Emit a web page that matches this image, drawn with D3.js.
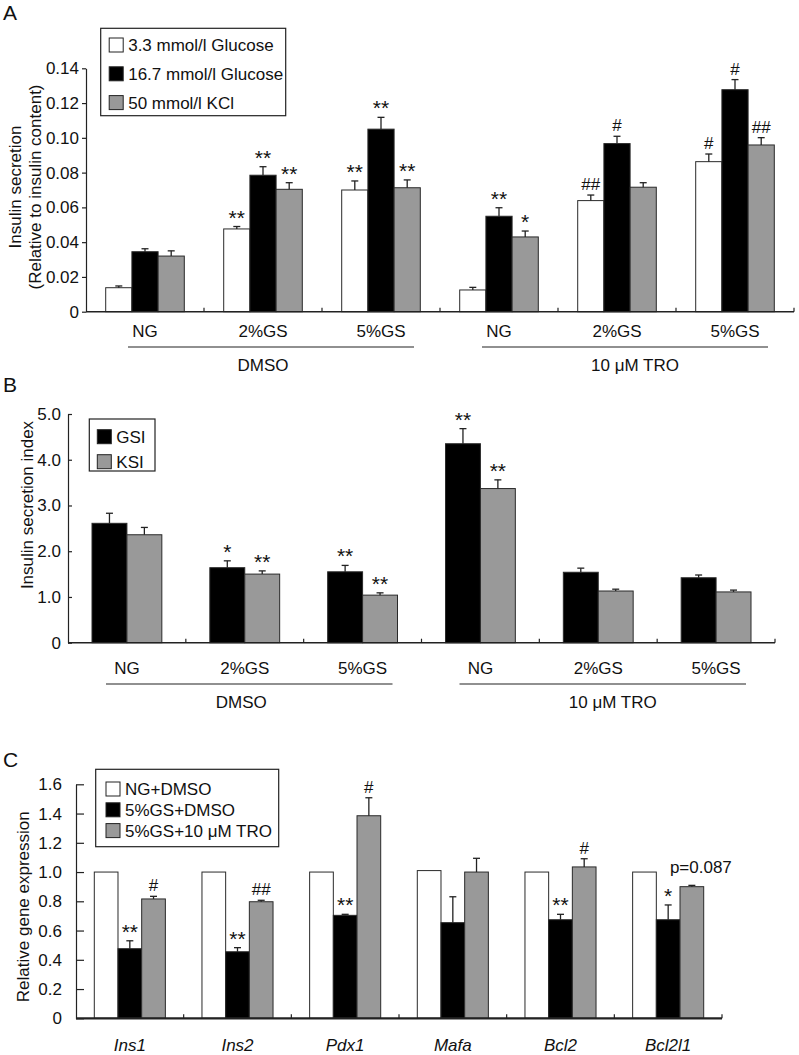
<!DOCTYPE html>
<html>
<head>
<meta charset="utf-8">
<script src="https://cdn.jsdelivr.net/npm/d3@7"></script>
<style>
  body { margin: 0; background: #fff; }
  text { font-family: "Liberation Sans", Arial, sans-serif; fill: #111; }
</style>
</head>
<body>
<svg id="chart" width="799" height="1055"></svg>
<script>
// ---- panel A data
var groupsA = ['NG', '2%GS', '5%GS', 'NG', '2%GS', '5%GS'];
var seriesA = ['3.3 mmol/l Glucose', '16.7 mmol/l Glucose', '50 mmol/l KCl'];
var glc33 = [0.0138, 0.0476, 0.0700, 0.0125, 0.0639, 0.0863];
var glc33Err = [0.0010, 0.0014, 0.0052, 0.0015, 0.0032, 0.0044];
var glc167 = [0.0345, 0.0785, 0.1050, 0.0549, 0.0967, 0.1277];
var glc167Err = [0.0017, 0.0049, 0.0068, 0.0049, 0.0042, 0.0058];
var kcl = [0.0320, 0.0704, 0.0713, 0.0430, 0.0716, 0.0959];
var kclErr = [0.0030, 0.0038, 0.0045, 0.0034, 0.0026, 0.0042];
var glc33Sig = ['', '**', '**', '', '##', '#'];
var glc167Sig = ['', '**', '**', '**', '#', '#'];
var kclSig = ['', '**', '**', '*', '', '##'];
var ticksA = [0, 0.02, 0.04, 0.06, 0.08, 0.10, 0.12, 0.14];
var tickLabelsA = ['0', '0.02', '0.04', '0.06', '0.08', '0.10', '0.12', '0.14'];

// ---- panel B data
var seriesB = ['GSI', 'KSI'];
var gsi = [2.61, 1.64, 1.55, 4.35, 1.54, 1.42];
var gsiErr = [0.22, 0.15, 0.14, 0.33, 0.09, 0.06];
var ksi = [2.36, 1.50, 1.04, 3.37, 1.13, 1.11];
var ksiErr = [0.16, 0.07, 0.05, 0.19, 0.04, 0.04];
var gsiSig = ['', '*', '**', '**', '', ''];
var ksiSig = ['', '**', '**', '**', '', ''];
var ticksB = [0, 1, 2, 3, 4, 5];
var tickLabelsB = ['0', '1.0', '2.0', '3.0', '4.0', '5.0'];

// treatment brackets (A and B)
var treatments = ['DMSO', '10 \u03bcM TRO'];
var treatmentGroups = [[0, 2], [3, 5]];

// ---- panel C data
var genes = ['Ins1', 'Ins2', 'Pdx1', 'Mafa', 'Bcl2', 'Bcl2l1'];
var seriesC = ['NG+DMSO', '5%GS+DMSO', '5%GS+10 \u03bcM TRO'];
var ngDmso = [1.00, 1.00, 1.00, 1.01, 1.00, 1.00];
var ngDmsoErr = [0, 0, 0, 0, 0, 0];
var gsDmso = [0.476, 0.455, 0.704, 0.654, 0.674, 0.674];
var gsDmsoErr = [0.054, 0.028, 0.007, 0.177, 0.037, 0.101];
var gsTro = [0.816, 0.797, 1.385, 1.000, 1.035, 0.900];
var gsTroErr = [0.018, 0.010, 0.123, 0.094, 0.056, 0.009];
var ngDmsoSig = ['', '', '', '', '', ''];
var gsDmsoSig = ['**', '**', '**', '', '**', '*'];
var gsTroSig = ['#', '##', '#', '', '#', 'p=0.087'];
var ticksC = [0, 0.2, 0.4, 0.6, 0.8, 1.0, 1.2, 1.4, 1.6];
var tickLabelsC = ['0', '0.2', '0.4', '0.6', '0.8', '1.0', '1.2', '1.4', '1.6'];

var svg = d3.select('#chart');
var FS = 17;

function drawPanel(p) {
  var g = svg.append('g');
  var x0 = d3.scaleBand().domain(d3.range(p.groups.length)).range([p.left, p.right]);
  var x1 = d3.scaleBand().domain(d3.range(p.series.length)).range([p.pad, x0.bandwidth() - p.pad]);
  var y = d3.scaleLinear().domain([0, p.yMax]).range([p.bottom, p.top]);

  // panel letter
  g.append('text').attr('x', 3).attr('y', p.letterY).attr('font-size', 21).text(p.letter);

  // bars
  p.values.forEach(function(vals, s) {
    var cols = g.append('g');
    cols.selectAll('rect').data(vals).enter().append('rect')
      .attr('x', function(d, i) { return x0(i) + x1(s); })
      .attr('y', function(d) { return y(d); })
      .attr('width', x1.bandwidth())
      .attr('height', function(d) { return y(0) - y(d); })
      .attr('fill', p.fills[s])
      .attr('stroke', '#2a2a2a')
      .attr('stroke-width', 1);

    vals.forEach(function(d, i) {
      var e = p.errs[s][i];
      var cx = x0(i) + x1(s) + x1.bandwidth() / 2;
      if (e > 0) {
        g.append('line').attr('x1', cx).attr('x2', cx).attr('y1', y(d)).attr('y2', y(d + e))
          .attr('stroke', '#222').attr('stroke-width', 1.3);
        g.append('line').attr('x1', cx - 3.5).attr('x2', cx + 3.5).attr('y1', y(d + e)).attr('y2', y(d + e))
          .attr('stroke', '#222').attr('stroke-width', 1.3);
      }
      var t = p.sigs[s][i];
      if (t) {
        var note = t.indexOf('p=') === 0;
        var star = t.charAt(0) === '*';
        g.append('text')
          .attr('x', cx + (note ? 9 : 0))
          .attr('y', y(d + e) - (note ? 12 : star ? 2 : 5))
          .attr('text-anchor', 'middle')
          .attr('font-size', star ? 21 : FS)
          .text(t);
      }
    });
  });

  // y axis
  var ya = d3.axisLeft(y).tickValues(p.yTicks)
    .tickFormat(function(d, i) { return p.yTickLabels[i]; })
    .tickSize(p.tickSize).tickSizeOuter(0).tickPadding(p.tickPad);
  var yg = g.append('g').attr('transform', 'translate(' + p.left + ',0)').call(ya);
  yg.selectAll('path, line').attr('stroke', '#222').attr('stroke-width', 1.2);
  yg.selectAll('text').attr('font-size', FS).attr('fill', '#111')
    .style('font-family', '"Liberation Sans", Arial, sans-serif');

  // x axis line and group separators
  g.append('line').attr('x1', p.left).attr('x2', p.right).attr('y1', y(0)).attr('y2', y(0))
    .attr('stroke', '#222').attr('stroke-width', p.xAxisWidth);
  var seps = d3.range(1, p.groups.length).map(function(i) { return x0(i); }).concat([p.right]);
  g.selectAll('.sep').data(seps).enter().append('line')
    .attr('x1', function(d) { return d; }).attr('x2', function(d) { return d; })
    .attr('y1', y(0)).attr('y2', y(0) - 4)
    .attr('stroke', '#222').attr('stroke-width', 1.2);

  // category labels
  g.selectAll('.cat').data(p.groups).enter().append('text')
    .attr('x', function(d, i) { return x0(i) + x0.bandwidth() / 2; })
    .attr('y', p.catY)
    .attr('text-anchor', 'middle')
    .attr('font-size', FS)
    .attr('font-style', p.italic ? 'italic' : 'normal')
    .text(function(d) { return d; });

  // treatment brackets
  if (p.brackets) {
    treatmentGroups.forEach(function(r, k) {
      var xa = x0(r[0]) + p.brStart, xb = x0(r[1]) + x0.bandwidth() - p.brEnd;
      g.append('line').attr('x1', xa).attr('x2', xb).attr('y1', p.brY).attr('y2', p.brY)
        .attr('stroke', '#222').attr('stroke-width', 1.2);
      g.append('text').attr('x', (xa + xb) / 2 + (k === 0 ? -8 : 10)).attr('y', p.brY + 24)
        .attr('text-anchor', 'middle').attr('font-size', FS).text(treatments[k]);
    });
  }

  // y title
  p.yTitle.forEach(function(line, k) {
    g.append('text')
      .attr('transform', 'translate(' + p.titleX[k] + ',' + p.titleY + ') rotate(-90)')
      .attr('text-anchor', 'middle').attr('dy', '0.35em').attr('font-size', FS).text(line);
  });

  // legend
  var L = p.legend;
  g.append('rect').attr('x', L.x).attr('y', L.y).attr('width', L.w).attr('height', L.h)
    .attr('fill', '#fff').attr('stroke', '#222').attr('stroke-width', 1.2);
  p.series.forEach(function(name, s) {
    var cy = L.y + L.first + s * L.step;
    g.append('rect').attr('x', L.x + L.sw).attr('y', cy - 7).attr('width', 14).attr('height', 14)
      .attr('fill', p.fills[s]).attr('stroke', '#222').attr('stroke-width', 1);
    g.append('text').attr('x', L.x + L.sw + 19).attr('y', cy).attr('dy', '0.35em')
      .attr('font-size', FS).text(name);
  });
}

drawPanel({
  letter: 'A', letterY: 20,
  groups: groupsA, series: seriesA,
  values: [glc33, glc167, kcl], errs: [glc33Err, glc167Err, kclErr],
  sigs: [glc33Sig, glc167Sig, kclSig],
  fills: ['#fff', '#000', '#999'],
  left: 86, right: 794, top: 68.3, bottom: 311.7, yMax: 0.14, pad: 19.7,
  yTicks: ticksA, yTickLabels: tickLabelsA, tickSize: 4, tickPad: 3,
  xAxisWidth: 1.4, catY: 337, italic: false,
  brackets: true, brY: 347, brStart: 42, brEnd: 26,
  yTitle: ['Insulin secretion', '(Relative to insulin content)'], titleX: [15, 35], titleY: 187,
  legend: { x: 100.7, y: 28.3, w: 185, h: 87.4, sw: 8.5, first: 16.7, step: 28.8 }
});

drawPanel({
  letter: 'B', letterY: 392,
  groups: groupsA, series: seriesB,
  values: [gsi, ksi], errs: [gsiErr, ksiErr],
  sigs: [gsiSig, ksiSig],
  fills: ['#000', '#999'],
  left: 68, right: 775, top: 414, bottom: 642.7, yMax: 5, pad: 24,
  yTicks: ticksB, yTickLabels: tickLabelsB, tickSize: -4, tickPad: 7,
  xAxisWidth: 1.4, catY: 674, italic: false,
  brackets: true, brY: 684, brStart: 38, brEnd: 29,
  yTitle: ['Insulin secretion index'], titleX: [26.7], titleY: 505,
  legend: { x: 89.3, y: 419, w: 65.7, h: 52, sw: 8, first: 17.7, step: 25 }
});

drawPanel({
  letter: 'C', letterY: 767,
  groups: genes, series: seriesC,
  values: [ngDmso, gsDmso, gsTro], errs: [ngDmsoErr, gsDmsoErr, gsTroErr],
  sigs: [ngDmsoSig, gsDmsoSig, gsTroSig],
  fills: ['#fff', '#000', '#999'],
  left: 76, right: 722, top: 784.3, bottom: 1018.3, yMax: 1.6, pad: 18.3,
  yTicks: ticksC, yTickLabels: tickLabelsC, tickSize: -8, tickPad: 14,
  xAxisWidth: 2.2, catY: 1051, italic: true,
  brackets: false,
  yTitle: ['Relative gene expression'], titleX: [22.7], titleY: 906.7,
  legend: { x: 95.7, y: 769.3, w: 183, h: 77.4, sw: 10.3, first: 19.7, step: 20.8 }
});
</script>
</body>
</html>
